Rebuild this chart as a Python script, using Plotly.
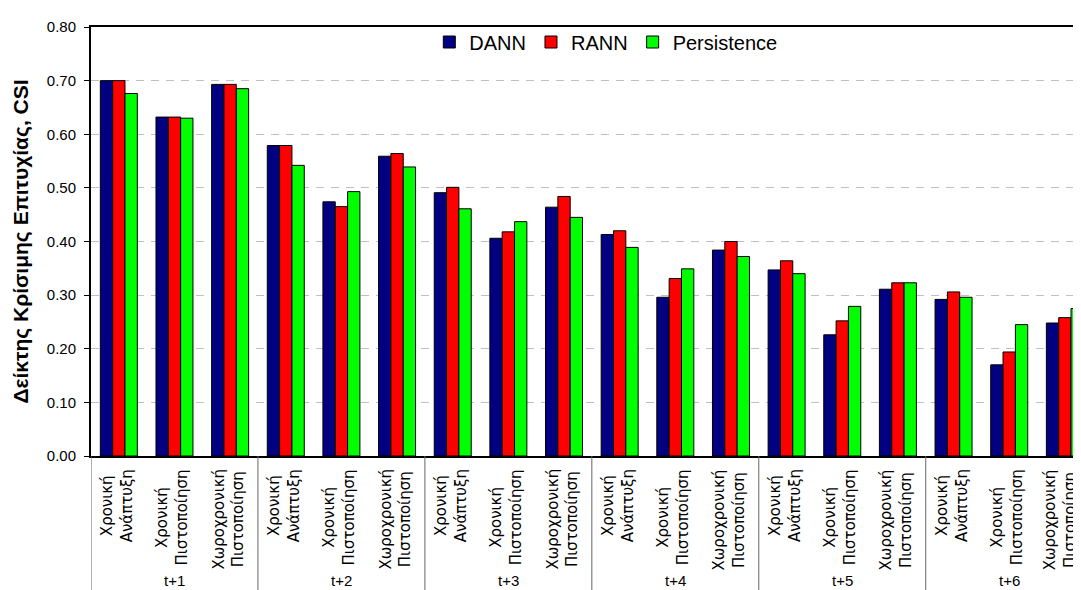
import plotly.graph_objects as go

horizons = ["t+1", "t+2", "t+3", "t+4", "t+5", "t+6"]
methods = ["Χρονική<br>Ανάπτυξη", "Χρονική<br>Πιστοποίηση", "Χωροχρονική<br>Πιστοποίηση"]
series_names = ["DANN", "RANN", "Persistence"]
series_colors = ["#000080", "#FF0000", "#00FF00"]

dann = [0.700, 0.632, 0.693, 0.579, 0.474, 0.559, 0.491, 0.406, 0.464,
        0.413, 0.296, 0.384, 0.347, 0.226, 0.311, 0.292, 0.170, 0.248]
rann = [0.700, 0.632, 0.693, 0.579, 0.465, 0.564, 0.501, 0.418, 0.484,
        0.420, 0.331, 0.400, 0.364, 0.252, 0.323, 0.306, 0.194, 0.258]
persistence = [0.676, 0.630, 0.685, 0.542, 0.493, 0.539, 0.461, 0.437, 0.445,
               0.389, 0.349, 0.372, 0.340, 0.279, 0.323, 0.296, 0.245, 0.275]

y_ticks = [0.0, 0.1, 0.2, 0.3, 0.4, 0.5, 0.6, 0.7, 0.8]

FONT = "Liberation Sans, Arial, sans-serif"
LABEL_FONT = "DejaVu Sans, Liberation Sans, sans-serif"

cats = [f"{h}|{m}" for h in horizons for m in methods]

# page body has an 8px default margin: figure sized so the plot area
# reaches the right edge of the window
W, H = 1073, 582
ML, MT, MB, MR = 83, 19, 134, 0
plot_h = H - MT - MB

fig = go.Figure()
for name, vals, col in zip(series_names, [dann, rann, persistence], series_colors):
    fig.add_trace(go.Bar(
        x=cats, y=vals, name=name,
        marker=dict(color=col, line=dict(color="black", width=1)),
    ))

n_per = len(methods)

# category labels
for i, c in enumerate(cats):
    m = methods[i % n_per]
    fig.add_annotation(
        x=c, xref="x", y=0, yref="paper", yshift=-11,
        xshift=-5 if i == len(cats) - 1 else -2,
        text=m, textangle=-90, xanchor="center", yanchor="top",
        align="center", showarrow=False,
        font=dict(family=LABEL_FONT, size=15, color="black"),
    )

# group labels and separators
for g, h in enumerate(horizons):
    fig.add_annotation(
        x=cats[g * n_per + 1], xref="x", y=-(580 - 456) / plot_h, yref="paper",
        text=h, showarrow=False, xanchor="center", yanchor="middle",
        font=dict(family=FONT, size=15, color="black"),
    )
    xb = g * n_per - 0.5
    fig.add_shape(type="line", xref="x", yref="paper", x0=xb, x1=xb,
                  y0=0, y1=-MB / plot_h, line=dict(color="#666666", width=1))

fig.update_layout(
    width=W, height=H,
    margin=dict(l=ML, r=MR, t=MT, b=MB),
    paper_bgcolor="white", plot_bgcolor="white",
    barmode="group", bargap=0.335, bargroupgap=0,
    font=dict(family=FONT, color="black"),
    legend=dict(orientation="h", x=0.52, xanchor="center", y=0.965, yanchor="middle",
                font=dict(family=FONT, size=20), bgcolor="rgba(0,0,0,0)",
                itemwidth=30, tracegroupgap=0),
    showlegend=True,
)
fig.update_xaxes(
    type="category", range=[-0.5, 17.29], showticklabels=False,
    showgrid=False, ticks="", showline=True, linecolor="black", linewidth=2,
    mirror=True, zeroline=False,
)
fig.update_yaxes(
    range=[0, 0.8], tickvals=y_ticks, tickformat=".2f",
    tickfont=dict(family=FONT, size=15, color="black"),
    ticks="outside", ticklen=5, tickcolor="black", tickwidth=1,
    ticklabelstandoff=5,
    showline=True, linecolor="black", linewidth=2,
    showgrid=True, gridcolor="#c0c0c0", gridwidth=1, griddash="8px,7px",
    zeroline=False,
    title=dict(text="<b>Δείκτης Κρίσιμης Επιτυχίας, CSI</b>",
               font=dict(family=FONT, size=21, color="black"), standoff=12),
)

fig.write_html("out.html")
